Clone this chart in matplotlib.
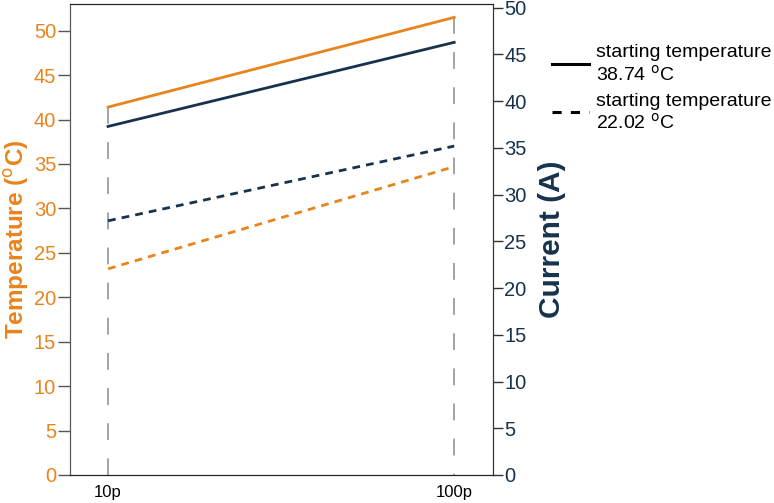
import matplotlib.pyplot as plt
from matplotlib.lines import Line2D

plt.rcParams['font.family'] = ['Liberation Sans', 'DejaVu Sans']

# data
x_labels = ['10p', '100p']
temp_hot = [41.4, 51.5]      # orange solid, left axis
temp_cold = [23.2, 34.7]     # orange dashed, left axis
curr_hot = [37.3, 46.3]      # navy solid, right axis
curr_cold = [27.2, 35.2]     # navy dashed, right axis
legend_labels = ['starting temperature\n38.74 $^{\\mathrm{o}}$C',
                 'starting temperature\n22.02 $^{\\mathrm{o}}$C']

orange = '#E8841C'
navy = '#17324D'
grey = '#8A8A8A'

fig = plt.figure(figsize=(7.74, 5.03), dpi=100)
ax = fig.add_axes([0.0904, 0.0557, 0.547, 0.9363])
ax2 = ax.twinx()

xs = list(range(len(x_labels)))

# grey dashed drop lines, drawn top-down so the dash pattern starts at the line
for x, top in zip(xs, temp_hot):
    ax.plot([x, x], [top, 0], color=grey, lw=1.1, ls=(0, (11, 12)), zorder=1)

ax.plot(xs, temp_hot, color=orange, lw=2)
ax.plot(xs, temp_cold, color=orange, lw=2, ls=(0, (2.8, 2.2)))
ax2.plot(xs, curr_hot, color=navy, lw=2)
ax2.plot(xs, curr_cold, color=navy, lw=2, ls=(0, (2.8, 2.2)))

ax.set_xlim(-0.11, 1.113)
ax.set_ylim(0, 53.0)
ax2.set_ylim(0, 50.4)
ax.set_xticks(xs)
ax.set_xticklabels(x_labels, fontsize=12)
ax.tick_params(axis='x', length=0, pad=7)

ax.set_yticks(range(0, 51, 5))
ax2.set_yticks(range(0, 51, 5))
ax.tick_params(axis='y', colors=orange, labelsize=14.5, length=9, width=1, pad=1)
ax.tick_params(axis='y', color='#555555')
ax2.tick_params(axis='y', colors=navy, labelsize=14.5, length=7, width=1, pad=1)
ax2.tick_params(axis='y', color='#333333')

ax.set_ylabel('Temperature ($^{\\mathrm{o}}$C)', color=orange, fontsize=17.5,
              fontweight='bold', labelpad=2)
ax2.set_ylabel('Current (A)', color=navy, fontsize=21.5, fontweight='bold',
               labelpad=8)

for a in (ax, ax2):
    a.spines['left'].set_color('#555555')
    a.spines['right'].set_color('#333333')
    a.spines['top'].set_color('#222222')
    a.spines['bottom'].set_color('#222222')

handles = [Line2D([], [], color='black', lw=2.2),
           Line2D([], [], color='black', lw=2.2, ls=(0, (3, 3)))]
fig.legend(handles, legend_labels, loc='upper left', bbox_to_anchor=(0.69, 0.947),
           frameon=False, fontsize=14, handlelength=1.95, handletextpad=0.36,
           labelspacing=0.42)

fig.savefig('out.png', dpi=100)
